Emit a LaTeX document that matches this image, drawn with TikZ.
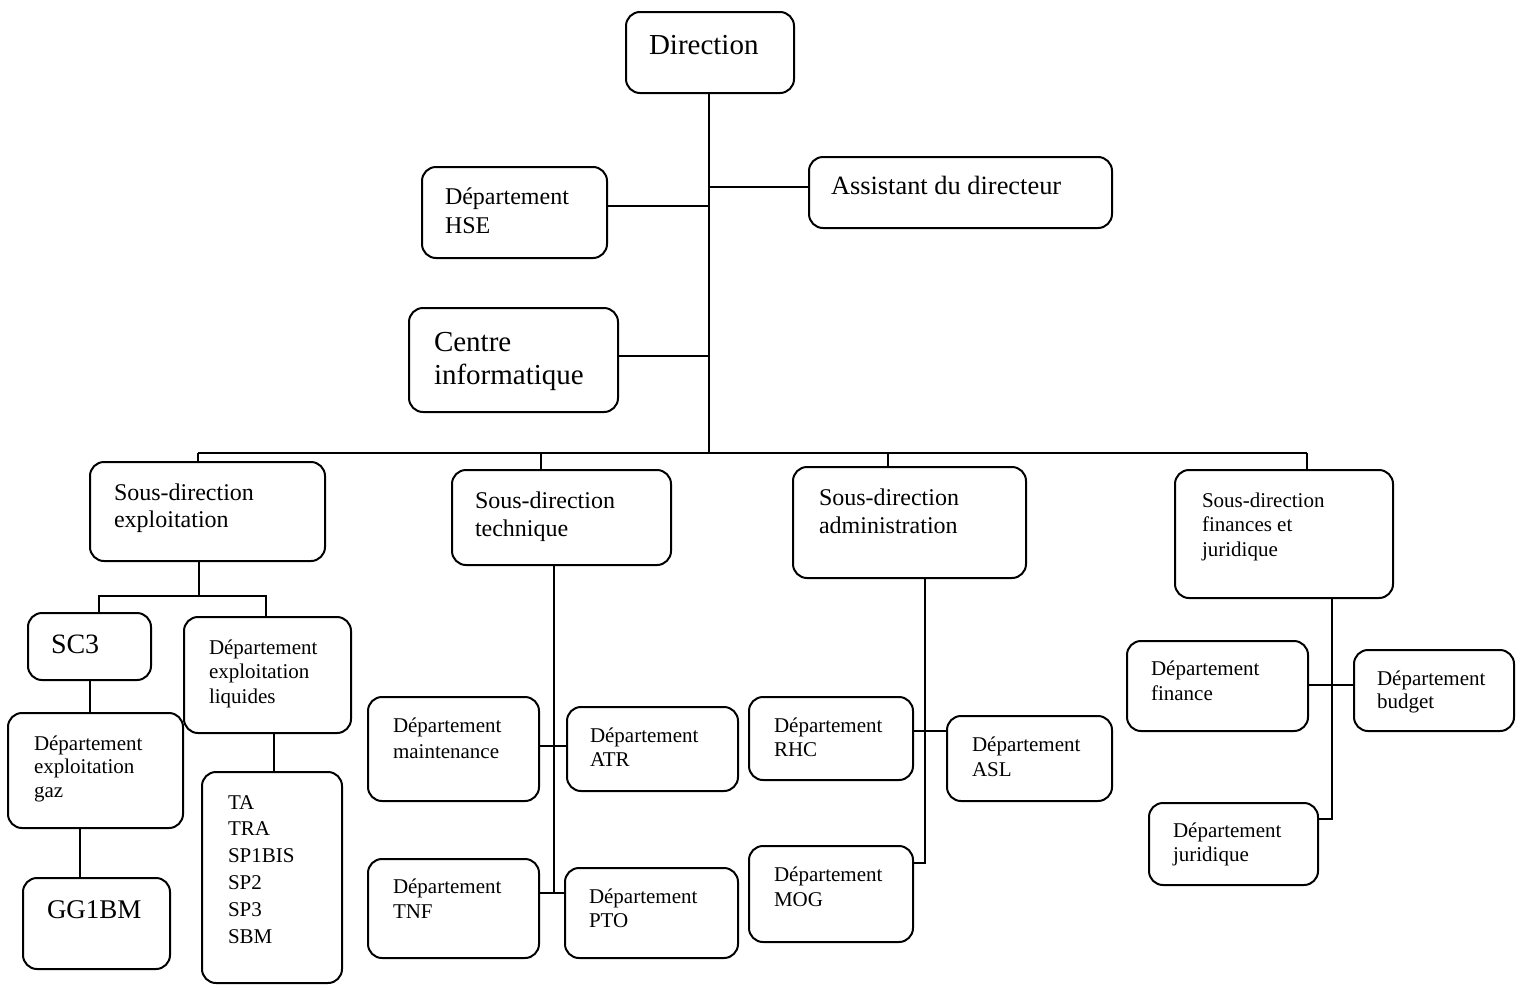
\documentclass[tikz,border=0pt]{standalone}
\usepackage{fontspec}
\setmainfont{Liberation Serif}
\usetikzlibrary{fit}
% left-aligned lines; the baseline of the box is the first line's baseline
\newcommand\rows[2]{\vtop{\baselineskip=#1\lineskiplimit=-100pt\lineskip=0pt\halign{##\hfil\cr#2\crcr}}}
\tikzset{
  unit box/.style={draw, line width=1pt, rounded corners=7pt, inner sep=0pt, outer sep=0pt},
  label text/.style={anchor=base west, inner sep=0pt, outer sep=0pt},
  big/.style={font=\fontsize{14.5}{17}\selectfont},
  mid/.style={font=\fontsize{12}{14}\selectfont},
  small/.style={font=\fontsize{10.5}{12}\selectfont},
  link/.style={line width=1pt},
}
\begin{document}
\begin{tikzpicture}[x=0.5pt,y=-0.5pt]
\useasboundingbox (0,0) rectangle (1518,985);

% ---------- top level ----------
\node[unit box, fit={(626,12)(794,93)}] (dir) {};
\node[label text, big] (dir-t) at (649,54) {Direction};

\node[unit box, fit={(422,167)(607,258)}] (hse) {};
\node[label text, mid] (hse-t) at (445,204) {\rows{14.5pt}{Département\cr HSE}};

\node[unit box, fit={(809,157)(1112,228)}] (asst) {};
\node[label text, font=\fontsize{13.2}{15}\selectfont] (asst-t) at (831,194) {Assistant du directeur};

\node[unit box, fit={(409,308)(618,412)}] (centre) {};
\node[label text, big] (centre-t) at (434,351) {\rows{16.5pt}{Centre\cr informatique}};

% ---------- sous-directions ----------
\node[unit box, fit={(90,462)(325,561)}] (sdx) {};
\node[label text, mid] (sdx-t) at (114,500) {\rows{13.75pt}{Sous-direction\cr exploitation}};

\node[unit box, fit={(452,470)(671,565)}] (sdt) {};
\node[label text, mid] (sdt-t) at (475,508) {\rows{14pt}{Sous-direction\cr technique}};

\node[unit box, fit={(793,467)(1026,578)}] (sda) {};
\node[label text, mid] (sda-t) at (819,505) {\rows{14pt}{Sous-direction\cr administration}};

\node[unit box, fit={(1175,470)(1393,598)}] (sdf) {};
\node[label text, small] (sdf-t) at (1202,507) {\rows{12.25pt}{Sous-direction\cr finances et\cr juridique}};

% ---------- exploitation ----------
\node[unit box, fit={(28,613)(151,680)}] (sc3) {};
\node[label text, font=\fontsize{14}{16}\selectfont] (sc3-t) at (51,653) {SC3};

\node[unit box, fit={(184,617)(351,733)}] (liq) {};
\node[label text, small] (liq-t) at (209,654) {\rows{12.25pt}{Département\cr exploitation\cr liquides}};

\node[unit box, fit={(8,713)(183,828)}] (gaz) {};
\node[label text, small] (gaz-t) at (34,750) {\rows{11.75pt}{Département\cr exploitation\cr gaz}};

\node[unit box, fit={(23,878)(170,969)}] (gg) {};
\node[label text, font=\fontsize{13.5}{16}\selectfont] (gg-t) at (47,918) {GG1BM};

\node[unit box, fit={(202,772)(342,983)}] (list) {};
\node[label text, small] (list-t) at (228,809) {\rows{13.4pt}{TA\cr TRA\cr SP1BIS\cr SP2\cr SP3\cr SBM}};

% ---------- technique ----------
\node[unit box, fit={(368,697)(539,801)}] (maint) {};
\node[label text, small] (maint-t) at (393,732) {\rows{13pt}{Département\cr maintenance}};

\node[unit box, fit={(567,707)(738,791)}] (atr) {};
\node[label text, small] (atr-t) at (590,742) {\rows{12pt}{Département\cr ATR}};

\node[unit box, fit={(368,859)(539,958)}] (tnf) {};
\node[label text, small] (tnf-t) at (393,893) {\rows{12.5pt}{Département\cr TNF}};

\node[unit box, fit={(565,868)(738,958)}] (pto) {};
\node[label text, small] (pto-t) at (589,903) {\rows{12pt}{Département\cr PTO}};

% ---------- administration ----------
\node[unit box, fit={(749,697)(913,780)}] (rhc) {};
\node[label text, small] (rhc-t) at (774,732) {\rows{12pt}{Département\cr RHC}};

\node[unit box, fit={(947,716)(1112,801)}] (asl) {};
\node[label text, small] (asl-t) at (972,751) {\rows{12.5pt}{Département\cr ASL}};

\node[unit box, fit={(749,846)(913,942)}] (mog) {};
\node[label text, small] (mog-t) at (774,881) {\rows{12.5pt}{Département\cr MOG}};

% ---------- finances et juridique ----------
\node[unit box, fit={(1127,641)(1308,731)}] (fin) {};
\node[label text, small] (fin-t) at (1151,675) {\rows{12.5pt}{Département\cr finance}};

\node[unit box, fit={(1354,650)(1514,731)}] (bud) {};
\node[label text, small] (bud-t) at (1377,685) {\rows{11.5pt}{Département\cr budget}};

\node[unit box, fit={(1149,803)(1318,885)}] (jur) {};
\node[label text, small] (jur-t) at (1173,837) {\rows{12pt}{Département\cr juridique}};

% ---------- connectors: direction ----------
\coordinate (trunk) at (709,453);
\draw[link] (dir.south -| trunk) -- (trunk);
\coordinate (jH) at (709,206);
\draw[link] (hse.east |- jH) -- (jH);
\coordinate (jA) at (709,187);
\draw[link] (jA) -- (asst.west |- jA);
\coordinate (jC) at (709,356);
\draw[link] (centre.east |- jC) -- (jC);

\coordinate (barL) at (198,453);
\coordinate (barR) at (1307,453);
\coordinate (bT) at (541,453);
\coordinate (bA) at (888,453);
\draw[link] (barL) -- (barR);
\draw[link] (barL) -- (barL |- sdx.north);
\draw[link] (bT) -- (bT |- sdt.north);
\draw[link] (bA) -- (bA |- sda.north);
\draw[link] (barR) -- (barR |- sdf.north);

% ---------- connectors: exploitation ----------
\coordinate (eX) at (199,596);
\coordinate (eL) at (99,596);
\coordinate (eR) at (266,596);
\draw[link] (eX |- sdx.south) -- (eX);
\draw[link] (eL |- sc3.north) -- (eL) -- (eR) -- (eR |- liq.north);
\coordinate (gX) at (90,0);
\draw[link] (sc3.south -| gX) -- (gaz.north -| gX);
\coordinate (ggX) at (80,0);
\draw[link] (gaz.south -| ggX) -- (gg.north -| ggX);
\coordinate (lX) at (274,0);
\draw[link] (liq.south -| lX) -- (list.north -| lX);

% ---------- connectors: technique ----------
\coordinate (tV) at (554,893);
\coordinate (tM) at (554,746);
\draw[link] (tV |- sdt.south) -- (tV);
\draw[link] (maint.east |- tM) -- (atr.west |- tM);
\draw[link] (tnf.east |- tV) -- (pto.west |- tV);

% ---------- connectors: administration ----------
\coordinate (aV) at (925,863);
\coordinate (aM) at (925,731);
\draw[link] (aV |- sda.south) -- (aV) -- (mog.east |- aV);
\draw[link] (rhc.east |- aM) -- (asl.west |- aM);

% ---------- connectors: finances ----------
\coordinate (fV) at (1332,819);
\coordinate (fM) at (1332,685);
\draw[link] (fV |- sdf.south) -- (fV) -- (jur.east |- fV);
\draw[link] (fin.east |- fM) -- (bud.west |- fM);
\end{tikzpicture}
\end{document}
